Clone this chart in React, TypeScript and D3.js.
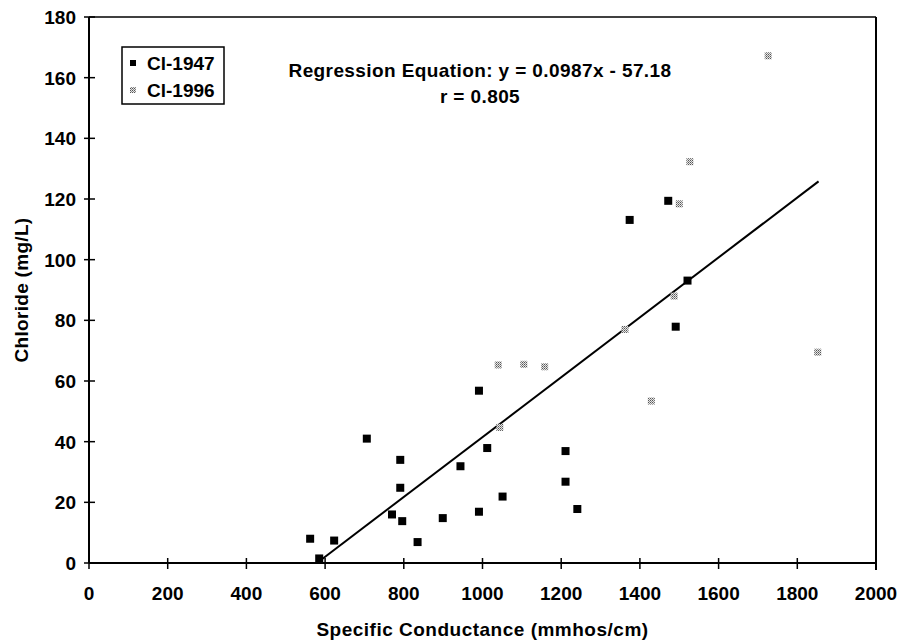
import React from "react";
import * as d3 from "d3";

const xTicks = [0, 200, 400, 600, 800, 1000, 1200, 1400, 1600, 1800, 2000];
const yTicks = [0, 20, 40, 60, 80, 100, 120, 140, 160, 180];

const cl1947X = [562, 585, 623, 706, 770, 791, 791, 796, 835, 899, 944, 991, 991, 1012, 1051, 1211, 1211, 1241, 1374, 1472, 1491, 1521];
const cl1947Y = [8, 1.5, 7.4, 41, 16, 34, 24.8, 13.8, 6.9, 14.8, 31.9, 56.8, 16.9, 37.9, 21.9, 36.9, 26.8, 17.8, 113.1, 119.4, 77.9, 93.1];

const cl1996X = [1040, 1044, 1105, 1158, 1362, 1429, 1487, 1500, 1527, 1726, 1852];
const cl1996Y = [65.3, 44.7, 65.5, 64.7, 77, 53.4, 88, 118.4, 132.3, 167.2, 69.5];

const slope = 0.0987;
const intercept = -57.18;
const lineXRange = [579.3, 1854];

const legendLabels = ["Cl-1947", "Cl-1996"];
const eqLines = ["Regression Equation: y = 0.0987x - 57.18", "r = 0.805"];
const xTitle = "Specific Conductance (mmhos/cm)";
const yTitle = "Chloride (mg/L)";

const FONT = "'Liberation Sans', Arial, Helvetica, sans-serif";

export default function App() {
  const W = 900, H = 641;
  const x = d3.scaleLinear().domain([0, 2000]).range([89, 876]);
  const y = d3.scaleLinear().domain([0, 180]).range([563, 17]);
  const line = d3.line<number>().x((d) => x(d)).y((d) => y(slope * d + intercept));
  const ms = 8;
  const gs = 7;
  return (
    <svg width={W} height={H} style={{ position: "absolute", left: 0, top: 0, background: "#fff" }} fontFamily={FONT}>
      <defs>
        <pattern id="stip" width="2" height="2" patternUnits="userSpaceOnUse">
          <rect width="2" height="2" fill="#e6e6e6" />
          <rect x="0" y="0" width="1" height="1" fill="#555" />
          <rect x="1" y="1" width="1" height="1" fill="#888" />
        </pattern>
      </defs>
      <rect width={W} height={H} fill="#fff" />
      {/* frame */}
      <line x1={x(0)} x2={x(2000)} y1={y(180)} y2={y(180)} stroke="#000" strokeWidth={1.5} />
      <line x1={x(2000)} x2={x(2000)} y1={y(180)} y2={y(0) + 7} stroke="#000" strokeWidth={2} />
      <line x1={x(0)} x2={x(0)} y1={y(180)} y2={y(0)} stroke="#000" strokeWidth={2} />
      <line x1={x(0)} x2={x(2000)} y1={y(0)} y2={y(0)} stroke="#000" strokeWidth={2} />
      {/* y ticks */}
      {yTicks.map((t) => (
        <g key={"y" + t}>
          <line x1={x(0) - 5} x2={x(0) + 6} y1={y(t)} y2={y(t)} stroke="#000" strokeWidth={1.5} />
          <text x={76} y={y(t)} dy="0.36em" textAnchor="end" fontSize={19} fontWeight="bold">
            {t}
          </text>
        </g>
      ))}
      {/* x ticks */}
      {xTicks.map((t) => (
        <g key={"x" + t}>
          <line x1={x(t)} x2={x(t)} y1={y(0) - 5} y2={y(0) + 6} stroke="#000" strokeWidth={1.5} />
          <text x={x(t)} y={600} textAnchor="middle" fontSize={19} fontWeight="bold">
            {t}
          </text>
        </g>
      ))}
      <text x={(x(0) + x(2000)) / 2} y={636} textAnchor="middle" fontSize={19} fontWeight="bold" letterSpacing={0.5}>
        {xTitle}
      </text>
      <text transform={`translate(28,${(y(0) + y(180)) / 2}) rotate(-90)`} textAnchor="middle" fontSize={19} fontWeight="bold" letterSpacing={0.3}>
        {yTitle}
      </text>
      {/* regression line */}
      <path d={line(lineXRange) || ""} stroke="#000" strokeWidth={2} fill="none" />
      {/* points */}
      {cl1996X.map((v, i) => (
        <rect key={"g" + i} x={x(v) - gs / 2} y={y(cl1996Y[i]) - gs / 2} width={gs} height={gs} fill="url(#stip)" />
      ))}
      {cl1947X.map((v, i) => (
        <rect key={"b" + i} x={x(v) - ms / 2} y={y(cl1947Y[i]) - ms / 2} width={ms} height={ms} fill="#000" />
      ))}
      {/* legend */}
      <rect x={122} y={47} width={102} height={57} fill="#fff" stroke="#000" strokeWidth={1.5} />
      <rect x={130} y={60} width={6} height={6} fill="#000" />
      <rect x={130} y={87} width={6} height={6} fill="url(#stip)" />
      <text x={147} y={70} fontSize={19} fontWeight="bold">{legendLabels[0]}</text>
      <text x={147} y={97} fontSize={19} fontWeight="bold">{legendLabels[1]}</text>
      {/* equation */}
      <text x={480} y={77} textAnchor="middle" fontSize={19} fontWeight="bold" letterSpacing={0.4}>{eqLines[0]}</text>
      <text x={480} y={103} textAnchor="middle" fontSize={19} fontWeight="bold" letterSpacing={0.4}>{eqLines[1]}</text>
    </svg>
  );
}
